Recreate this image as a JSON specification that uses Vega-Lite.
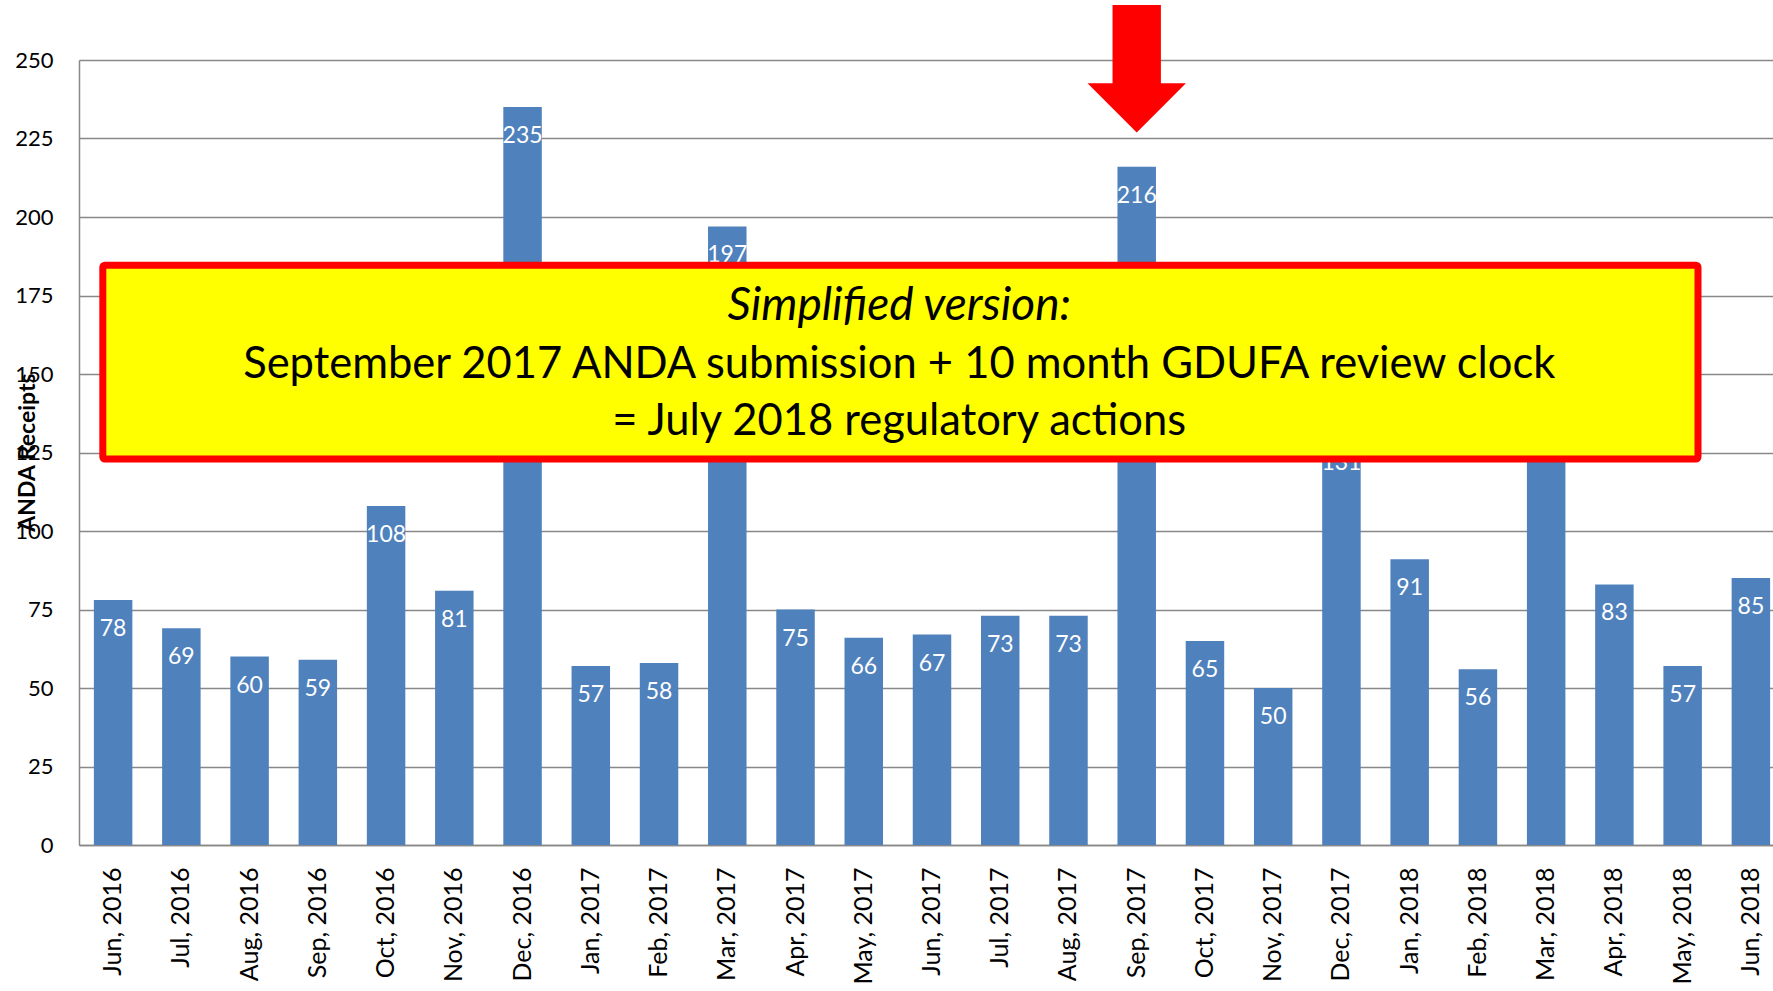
{
  "$schema": "https://vega.github.io/schema/vega-lite/v6.json",
  "width": 1694,
  "height": 785,
  "autosize": "none",
  "padding": {"left": 79, "top": 60, "right": 0, "bottom": 146},
  "background": "white",
  "config": {"view": {"stroke": null}, "font": "Lato"},
  "datasets": {
    "receipts": [
      {"month": "Jun, 2016", "receipts": 78},
      {"month": "Jul, 2016", "receipts": 69},
      {"month": "Aug, 2016", "receipts": 60},
      {"month": "Sep, 2016", "receipts": 59},
      {"month": "Oct, 2016", "receipts": 108},
      {"month": "Nov, 2016", "receipts": 81},
      {"month": "Dec, 2016", "receipts": 235},
      {"month": "Jan, 2017", "receipts": 57},
      {"month": "Feb, 2017", "receipts": 58},
      {"month": "Mar, 2017", "receipts": 197},
      {"month": "Apr, 2017", "receipts": 75},
      {"month": "May, 2017", "receipts": 66},
      {"month": "Jun, 2017", "receipts": 67},
      {"month": "Jul, 2017", "receipts": 73},
      {"month": "Aug, 2017", "receipts": 73},
      {"month": "Sep, 2017", "receipts": 216},
      {"month": "Oct, 2017", "receipts": 65},
      {"month": "Nov, 2017", "receipts": 50},
      {"month": "Dec, 2017", "receipts": 131},
      {"month": "Jan, 2018", "receipts": 91},
      {"month": "Feb, 2018", "receipts": 56},
      {"month": "Mar, 2018", "receipts": 150},
      {"month": "Apr, 2018", "receipts": 83},
      {"month": "May, 2018", "receipts": 57},
      {"month": "Jun, 2018", "receipts": 85}
    ],
    "box": [{"x0": 0.349, "x1": 23.725, "y0": 122.9, "y1": 184.65}],
    "headline": [{"text": "Simplified version:", "x": 12.02, "y": 167.2}],
    "body": [
      {"text": "September 2017 ANDA submission + 10 month GDUFA review clock", "x": 12.02, "y": 148.7},
      {"text": "= July 2018 regulatory actions", "x": 12.02, "y": 130.6}
    ],
    "arrow": [{"x": 15.5, "y": 247.2}]
  },
  "resolve": {"scale": {"x": "independent", "y": "independent"}},
  "layer": [
    {
      "data": {"name": "receipts"},
      "layer": [
        {
          "mark": {"type": "bar", "color": "#4F81BD"},
          "encoding": {
            "x": {
              "field": "month", "type": "nominal", "sort": null,
              "scale": {"range": [0, 1706], "paddingInner": 0.436, "paddingOuter": 0.218},
              "axis": {
                "title": null, "labelAngle": -90, "labelFont": "Lato", "labelFontSize": 25,
                "labelColor": "#000000", "labelPadding": 22, "ticks": false, "tickSize": 0,
                "domainColor": "#888888", "domainWidth": 1.5, "grid": false, "labelOverlap": false
              }
            },
            "y": {
              "field": "receipts", "type": "quantitative",
              "scale": {"domain": [0, 250], "nice": false},
              "axis": {
                "title": "ANDA Receipts",
                "values": [0, 25, 50, 75, 100, 125, 150, 175, 200, 225, 250],
                "grid": true, "gridColor": "#888888", "gridWidth": 1.3,
                "ticks": false, "tickSize": 0, "labelPadding": 26,
                "labelFont": "Lato", "labelFontSize": 22, "labelColor": "#000000", "labelFlush": false,
                "domainColor": "#888888", "domainWidth": 1.5,
                "titleFont": "Lato", "titleFontSize": 23, "titleFontWeight": "bold", "titleColor": "#000000",
                "titleAngle": -90, "titleX": -52, "titleY": 392, "titleAlign": "center", "titleBaseline": "middle"
              }
            }
          }
        },
        {
          "mark": {"type": "text", "color": "white", "font": "Lato", "fontSize": 23, "baseline": "middle", "dy": 29},
          "encoding": {
            "x": {"field": "month", "type": "nominal", "sort": null},
            "y": {"field": "receipts", "type": "quantitative"},
            "text": {"field": "receipts", "type": "quantitative"}
          }
        }
      ]
    },
    {
      "layer": [
        {
          "data": {"name": "box"},
          "mark": {"type": "rect", "fill": "#FFFF00", "stroke": "#FF0000", "strokeWidth": 7, "cornerRadius": 2},
          "encoding": {
            "x": {"field": "x0", "type": "quantitative", "scale": {"domain": [0, 25], "range": [0, 1706], "nice": false, "zero": false}, "axis": null},
            "x2": {"field": "x1"},
            "y": {"field": "y0", "type": "quantitative", "scale": {"domain": [0, 250], "nice": false}, "axis": null},
            "y2": {"field": "y1"}
          }
        },
        {
          "data": {"name": "headline"},
          "mark": {"type": "text", "font": "Lato", "fontSize": 46, "fontStyle": "italic", "color": "#000000", "align": "center", "baseline": "alphabetic"},
          "encoding": {
            "x": {"field": "x", "type": "quantitative"},
            "y": {"field": "y", "type": "quantitative"},
            "text": {"field": "text"}
          }
        },
        {
          "data": {"name": "body"},
          "mark": {"type": "text", "font": "Lato", "fontSize": 43.5, "color": "#000000", "align": "center", "baseline": "alphabetic"},
          "encoding": {
            "x": {"field": "x", "type": "quantitative"},
            "y": {"field": "y", "type": "quantitative"},
            "text": {"field": "text"}
          }
        },
        {
          "data": {"name": "arrow"},
          "mark": {
            "type": "point", "filled": true, "opacity": 1, "color": "#FF0000", "strokeWidth": 0, "size": 16900,
            "shape": "M -0.372 -0.982 L 0.372 -0.982 L 0.372 0.222 L 0.757 0.222 L 0 0.982 L -0.757 0.222 L -0.372 0.222 Z"
          },
          "encoding": {
            "x": {"field": "x", "type": "quantitative"},
            "y": {"field": "y", "type": "quantitative"}
          }
        }
      ]
    }
  ]
}
